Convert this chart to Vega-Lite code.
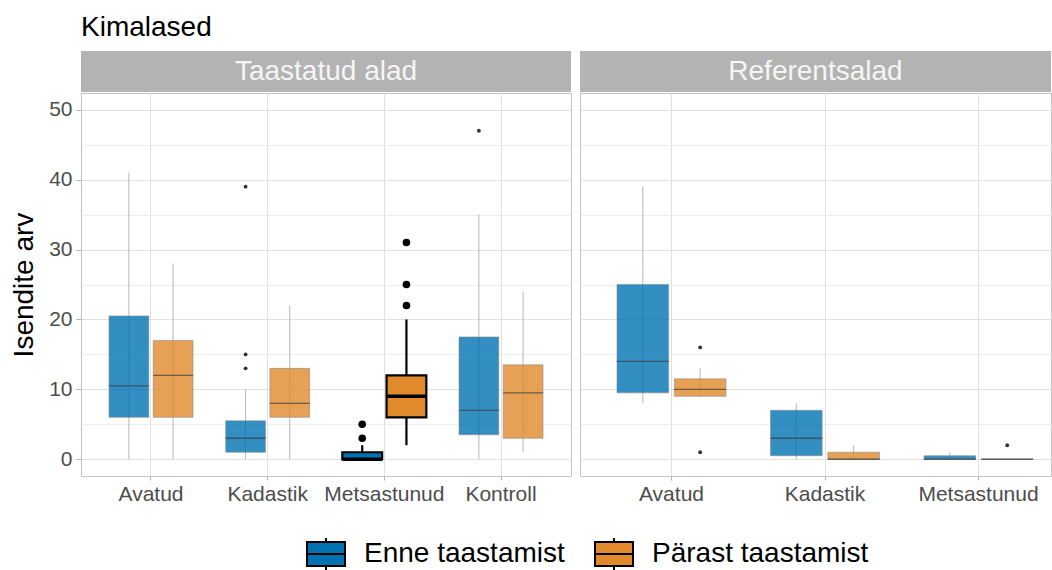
{
  "$schema": "https://vega.github.io/schema/vega-lite/v6.json",
  "background": "white",
  "padding": {"left": 10, "top": 14, "right": 0, "bottom": 0},
  "config": {
    "font": "Liberation Sans",
    "view": {"stroke": "#c4c4c4", "strokeWidth": 1},
    "axisX": {
      "title": null, "labelAngle": 0, "labelFontSize": 21, "labelColor": "#4d4d4d",
      "tickColor": "#b3b3b3", "tickSize": 4, "labelPadding": 3, "domain": false,
      "grid": true, "gridColor": "#e0e0e0", "bandPosition": 0.5, "zindex": 0
    },
    "axisY": {
      "values": [0, 5, 10, 15, 20, 25, 30, 35, 40, 45, 50],
      "gridColor": {"condition": {"test": "datum.value % 10 === 0", "value": "#e0e0e0"}, "value": "#eeeeee"},
      "domain": false, "zindex": 0
    }
  },
  "datasets": {
    "boxes": [
      {"panel": "T", "ala": "Avatud", "grupp": "Enne taastamist", "min": 0, "q1": 6, "med": 10.5, "q3": 20.5, "max": 41, "hl": false},
      {"panel": "T", "ala": "Avatud", "grupp": "Pärast taastamist", "min": 0, "q1": 6, "med": 12, "q3": 17, "max": 28, "hl": false},
      {"panel": "T", "ala": "Kadastik", "grupp": "Enne taastamist", "min": 0, "q1": 1, "med": 3, "q3": 5.5, "max": 10, "hl": false},
      {"panel": "T", "ala": "Kadastik", "grupp": "Pärast taastamist", "min": 0, "q1": 6, "med": 8, "q3": 13, "max": 22, "hl": false},
      {"panel": "T", "ala": "Metsastunud", "grupp": "Enne taastamist", "min": 0, "q1": 0, "med": 0, "q3": 1, "max": 2, "hl": true},
      {"panel": "T", "ala": "Metsastunud", "grupp": "Pärast taastamist", "min": 2, "q1": 6, "med": 9, "q3": 12, "max": 20, "hl": true},
      {"panel": "T", "ala": "Kontroll", "grupp": "Enne taastamist", "min": 0, "q1": 3.5, "med": 7, "q3": 17.5, "max": 35, "hl": false},
      {"panel": "T", "ala": "Kontroll", "grupp": "Pärast taastamist", "min": 1, "q1": 3, "med": 9.5, "q3": 13.5, "max": 24, "hl": false},
      {"panel": "R", "ala": "Avatud", "grupp": "Enne taastamist", "min": 8, "q1": 9.5, "med": 14, "q3": 25, "max": 39, "hl": false},
      {"panel": "R", "ala": "Avatud", "grupp": "Pärast taastamist", "min": 9, "q1": 9, "med": 10, "q3": 11.5, "max": 13, "hl": false},
      {"panel": "R", "ala": "Kadastik", "grupp": "Enne taastamist", "min": 0, "q1": 0.5, "med": 3, "q3": 7, "max": 8, "hl": false},
      {"panel": "R", "ala": "Kadastik", "grupp": "Pärast taastamist", "min": 0, "q1": 0, "med": 0, "q3": 1, "max": 2, "hl": false},
      {"panel": "R", "ala": "Metsastunud", "grupp": "Enne taastamist", "min": 0, "q1": 0, "med": 0, "q3": 0.5, "max": 1, "hl": false},
      {"panel": "R", "ala": "Metsastunud", "grupp": "Pärast taastamist", "min": 0, "q1": 0, "med": 0, "q3": 0, "max": 0, "hl": false}
    ],
    "outliers": [
      {"panel": "T", "ala": "Kadastik", "grupp": "Enne taastamist", "value": 13, "hl": false},
      {"panel": "T", "ala": "Kadastik", "grupp": "Enne taastamist", "value": 15, "hl": false},
      {"panel": "T", "ala": "Kadastik", "grupp": "Enne taastamist", "value": 39, "hl": false},
      {"panel": "T", "ala": "Metsastunud", "grupp": "Enne taastamist", "value": 3, "hl": true},
      {"panel": "T", "ala": "Metsastunud", "grupp": "Enne taastamist", "value": 5, "hl": true},
      {"panel": "T", "ala": "Metsastunud", "grupp": "Pärast taastamist", "value": 22, "hl": true},
      {"panel": "T", "ala": "Metsastunud", "grupp": "Pärast taastamist", "value": 25, "hl": true},
      {"panel": "T", "ala": "Metsastunud", "grupp": "Pärast taastamist", "value": 31, "hl": true},
      {"panel": "T", "ala": "Kontroll", "grupp": "Enne taastamist", "value": 47, "hl": false},
      {"panel": "R", "ala": "Avatud", "grupp": "Pärast taastamist", "value": 16, "hl": false},
      {"panel": "R", "ala": "Avatud", "grupp": "Pärast taastamist", "value": 1, "hl": false},
      {"panel": "R", "ala": "Metsastunud", "grupp": "Pärast taastamist", "value": 2, "hl": false}
    ],
    "stripT": [{"label": "Taastatud alad"}],
    "stripR": [{"label": "Referentsalad"}]
  },
  "spacing": 7,
  "resolve": {"scale": {"x": "independent", "xOffset": "independent", "y": "independent", "fill": "shared"}, "legend": {"fill": "shared"}},
  "hconcat": [
    {
      "spacing": 0,
      "vconcat": [
        {
          "data": {"name": "stripT"},
          "width": 490, "height": 41,
          "view": {"fill": "#b3b3b3", "stroke": null},
          "title": {"text": "Kimalased", "anchor": "start", "frame": "group", "fontSize": 28, "fontWeight": "normal", "color": "black", "offset": 9},
          "mark": {"type": "text", "fontSize": 28, "color": "#f5f5f5", "baseline": "middle", "align": "center"},
          "encoding": {"text": {"field": "label"}}
        },
        {
          "width": 490, "height": 383,
          "encoding": {
            "x": {"field": "ala", "type": "nominal", "scale": {"domain": ["Avatud", "Kadastik", "Metsastunud", "Kontroll"], "paddingInner": 0.28, "paddingOuter": 0.24, "align": 0.5}},
            "xOffset": {"field": "grupp", "type": "nominal", "scale": {"domain": ["Enne taastamist", "Pärast taastamist"], "paddingInner": 0.1, "paddingOuter": 0}}
          },
          "layer": [
            {
              "data": {"name": "boxes"},
              "transform": [{"filter": "datum.panel === 'T'"}],
              "mark": {"type": "rule"},
              "encoding": {
                "y": {"field": "min", "type": "quantitative", "scale": {"domain": [-2.4, 52.4], "nice": false, "zero": false},
                  "axis": {"title": "Isendite arv", "titleFontSize": 28, "titleFontWeight": "normal", "titleColor": "black", "titlePadding": 10,
                    "labelExpr": "datum.value % 10 === 0 ? datum.label : ''", "labelFontSize": 21, "labelColor": "#4d4d4d", "labelPadding": 4,
                    "tickSize": 5, "tickColor": "#b3b3b3", "tickOpacity": {"condition": {"test": "datum.value % 10 === 0", "value": 1}, "value": 0}}},
                "y2": {"field": "max"},
                "color": {"condition": {"test": "datum.hl", "value": "black"}, "value": "#b5b5b5"},
                "strokeWidth": {"condition": {"test": "datum.hl", "value": 2.2}, "value": 1}
              }
            },
            {
              "data": {"name": "boxes"},
              "transform": [{"filter": "datum.panel === 'T'"}],
              "mark": {"type": "bar"},
              "encoding": {
                "y": {"field": "q1", "type": "quantitative"},
                "y2": {"field": "q3"},
                "fill": {"field": "grupp", "type": "nominal",
                  "scale": {"domain": ["Enne taastamist", "Pärast taastamist"], "range": ["#0072B2", "#E08A2C"]},
                  "legend": {"orient": "none", "legendX": 225, "legendY": 483, "direction": "horizontal", "title": null,
                    "labelFontSize": 28, "labelColor": "black", "labelOffset": 18, "columnPadding": 26, "labelLimit": 600,
                    "symbolType": "M-1,-0.63H1V0.63H-1Z M-1,0H1 M0,-0.63V-0.84 M0,0.63V0.84",
                    "symbolSize": 1444, "symbolStrokeColor": "black", "symbolStrokeWidth": 2, "symbolOpacity": 1}},
                "fillOpacity": {"condition": {"test": "datum.hl", "value": 1}, "value": 0.8},
                "stroke": {"condition": {"test": "datum.hl", "value": "black"}, "value": "#8c8c8c"},
                "strokeWidth": {"condition": {"test": "datum.hl", "value": 2.2}, "value": 0.6}
              }
            },
            {
              "data": {"name": "boxes"},
              "transform": [{"filter": "datum.panel === 'T' && !datum.hl"}],
              "mark": {"type": "tick", "size": 40, "thickness": 1.3, "color": "#3d3d3d", "opacity": 0.7},
              "encoding": {"y": {"field": "med", "type": "quantitative"}}
            },
            {
              "data": {"name": "boxes"},
              "transform": [{"filter": "datum.panel === 'T' && datum.hl"}],
              "mark": {"type": "tick", "size": 40, "thickness": 3.6, "color": "black", "opacity": 1},
              "encoding": {"y": {"field": "med", "type": "quantitative"}}
            },
            {
              "data": {"name": "outliers"},
              "transform": [{"filter": "datum.panel === 'T'"}],
              "mark": {"type": "circle", "opacity": 1},
              "encoding": {
                "y": {"field": "value", "type": "quantitative"},
                "color": {"condition": {"test": "datum.hl", "value": "black"}, "value": "#333333"},
                "size": {"condition": {"test": "datum.hl", "value": 58}, "value": 15}
              }
            }
          ]
        }
      ]
    },
    {
      "spacing": 0,
      "vconcat": [
        {
          "data": {"name": "stripR"},
          "width": 471, "height": 41,
          "view": {"fill": "#b3b3b3", "stroke": null},
          "mark": {"type": "text", "fontSize": 28, "color": "#f5f5f5", "baseline": "middle", "align": "center"},
          "encoding": {"text": {"field": "label"}}
        },
        {
          "width": 471, "height": 383,
          "encoding": {
            "x": {"field": "ala", "type": "nominal", "scale": {"domain": ["Avatud", "Kadastik", "Metsastunud"], "paddingInner": 0.29, "paddingOuter": 0.179, "align": 0.673}},
            "xOffset": {"field": "grupp", "type": "nominal", "scale": {"domain": ["Enne taastamist", "Pärast taastamist"], "paddingInner": 0.1, "paddingOuter": 0}}
          },
          "layer": [
            {
              "data": {"name": "boxes"},
              "transform": [{"filter": "datum.panel === 'R'"}],
              "mark": {"type": "rule", "color": "#b5b5b5", "strokeWidth": 1},
              "encoding": {
                "y": {"field": "min", "type": "quantitative", "scale": {"domain": [-2.4, 52.4], "nice": false, "zero": false},
                  "axis": {"title": null, "labels": false, "ticks": false}},
                "y2": {"field": "max"}
              }
            },
            {
              "data": {"name": "boxes"},
              "transform": [{"filter": "datum.panel === 'R'"}],
              "mark": {"type": "bar", "fillOpacity": 0.8, "stroke": "#8c8c8c", "strokeWidth": 0.6},
              "encoding": {
                "y": {"field": "q1", "type": "quantitative"},
                "y2": {"field": "q3"},
                "fill": {"field": "grupp", "type": "nominal", "legend": null}
              }
            },
            {
              "data": {"name": "boxes"},
              "transform": [{"filter": "datum.panel === 'R'"}],
              "mark": {"type": "tick", "size": 52, "thickness": 1.3, "color": "#3d3d3d", "opacity": 0.7},
              "encoding": {"y": {"field": "med", "type": "quantitative"}}
            },
            {
              "data": {"name": "outliers"},
              "transform": [{"filter": "datum.panel === 'R'"}],
              "mark": {"type": "circle", "opacity": 1, "color": "#333333", "size": 15},
              "encoding": {"y": {"field": "value", "type": "quantitative"}}
            }
          ]
        }
      ]
    }
  ]
}
